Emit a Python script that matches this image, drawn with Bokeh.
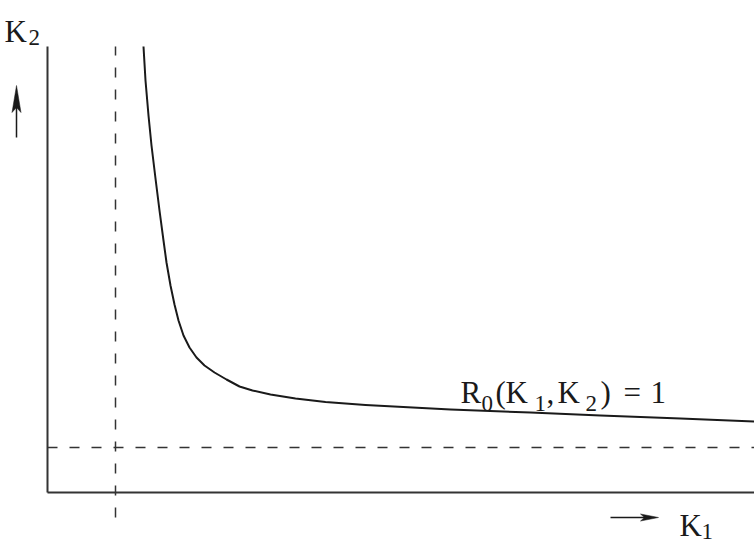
from bokeh.plotting import figure
from bokeh.models import Range1d, ColumnDataSource
from bokeh.core.properties import value
from bokeh.embed import file_html
from bokeh.resources import INLINE

# ---- data (arbitrary units) ----
curve_k1 = [0.96, 0.98, 1.01, 1.04, 1.08, 1.12, 1.16, 1.19, 1.23, 1.27, 1.31, 1.36, 1.42, 1.49,
            1.57, 1.67, 1.79, 1.92, 2.05, 2.23, 2.48, 2.78, 3.18, 4.03, 4.83, 5.53, 6.33, 7.07]
curve_k2 = [4.46, 4.12, 3.77, 3.47, 3.14, 2.82, 2.52, 2.30, 2.07, 1.88, 1.72, 1.57, 1.45, 1.35,
            1.27, 1.20, 1.13, 1.06, 1.02, 0.98, 0.94, 0.905, 0.875, 0.83, 0.80, 0.77, 0.74, 0.71]
k1_threshold = 0.68      # vertical dashed asymptote
k2_threshold = 0.45      # horizontal dashed asymptote
k1_max = 7.07
k2_max = 4.46

# ---- layout helpers: picture pixels -> data units ----
def X(px):
    return (px - 47) / 100.0

def Y(py):
    return (492 - py) / 100.0

W, H = 754, 543
p = figure(width=W, height=H, output_backend="svg", toolbar_location=None,
           x_range=Range1d(X(0), X(W)), y_range=Range1d(Y(H), Y(0)),
           min_border=0, min_border_left=0, min_border_right=0,
           min_border_top=0, min_border_bottom=0)
p.xaxis.visible = False
p.yaxis.visible = False
p.xgrid.visible = False
p.ygrid.visible = False
p.outline_line_color = None
p.background_fill_color = "white"
p.border_fill_color = "white"

axis_col = "#333333"
ink = "#1a1a1a"
# axes
p.line([0, 0], [0, k2_max], line_color=axis_col, line_width=2)
p.line([0, k1_max], [0, 0], line_color=axis_col, line_width=2)

# dashed asymptotes
p.line([k1_threshold, k1_threshold], [Y(517), k2_max], line_color=axis_col,
       line_width=1.5, line_dash="10 12")
p.line([0, k1_max], [k2_threshold, k2_threshold], line_color=axis_col,
       line_width=1.5, line_dash="10 12")

# curve
src = ColumnDataSource(dict(x=curve_k1, y=curve_k2))
p.line("x", "y", source=src, line_color=ink, line_width=2, line_join="round")

# arrows
p.line([X(16), X(16)], [Y(137), Y(100)], line_color=ink, line_width=1.5)
p.patch([X(16), X(11.5), X(16), X(20.5)], [Y(85), Y(112), Y(107), Y(112)],
        fill_color=ink, line_color=ink, line_width=0.5)
p.line([X(610), X(645)], [Y(517), Y(517)], line_color=ink, line_width=1.5)
p.patch([X(658), X(640), X(644), X(640)], [Y(517), Y(513.5), Y(517), Y(520.5)],
        fill_color=ink, line_color=ink, line_width=0.5)

font = value("Liberation Serif")
big = "31px"
small = "23px"

def txt(px, py, s, size):
    p.text(x=[X(px)], y=[Y(py)], text=[s], text_font=font, text_font_size=size,
           text_color=ink, text_baseline="alphabetic", text_align="left")

# K2 axis label
txt(4, 31, "K", big)
txt(28, 37, "2", small)
# K1 axis label
txt(679, 525, "K", big)
txt(701, 531, "1", small)
# curve label R0(K1, K2) = 1
txt(460, 392, "R", big)
txt(481, 403, "0", small)
txt(495, 392, "(", big)
txt(505, 392, "K", big)
txt(534, 403, "1", small)
txt(546, 392, ",", big)
txt(557, 392, "K", big)
txt(585, 403, "2", small)
txt(600, 392, ")", big)
txt(623, 392, "=", big)
txt(650, 392, "1", big)

open("out.html", "w").write(file_html(p, INLINE))
